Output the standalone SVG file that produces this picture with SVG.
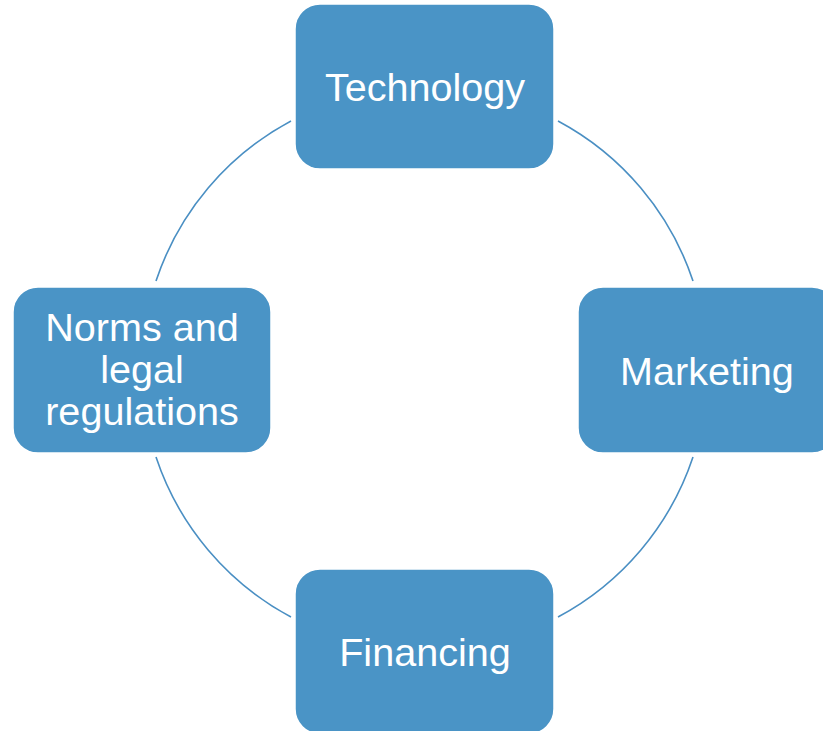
<svg xmlns="http://www.w3.org/2000/svg" width="823" height="731" viewBox="0 0 823 731">
<style>
.node{fill:#4a94c6;stroke:#ffffff;stroke-width:1.5}
.lbl{font-family:"Liberation Sans",Arial,sans-serif;font-size:39.6px;fill:#ffffff;text-anchor:middle}
.arc{fill:none;stroke:#4a8fc3;stroke-width:1.6}
</style>
<rect width="823" height="731" fill="#ffffff"/>
<g id="connectors">
<path class="arc" d="M156,281 A282.5,282.5 0 0 1 291,121"/>
<path class="arc" d="M558,121 A282.5,282.5 0 0 1 693,281"/>
<path class="arc" d="M693,457 A282.5,282.5 0 0 1 558,617"/>
<path class="arc" d="M291,617 A282.5,282.5 0 0 1 156,457"/>
</g>
<g id="technology">
<rect class="node" x="295" y="4" width="259" height="165" rx="25"/>
<text class="lbl" x="425" y="101">Technology</text>
</g>
<g id="marketing">
<rect class="node" x="578" y="287" width="259" height="166" rx="25"/>
<text class="lbl" x="707" y="385">Marketing</text>
</g>
<g id="financing">
<rect class="node" x="295" y="569" width="259" height="165" rx="25"/>
<text class="lbl" x="425" y="666">Financing</text>
</g>
<g id="norms">
<rect class="node" x="13" y="287" width="258" height="166" rx="25"/>
<text class="lbl" x="142" y="341">Norms and</text>
<text class="lbl" x="142" y="383">legal</text>
<text class="lbl" x="142" y="425">regulations</text>
</g>
</svg>
